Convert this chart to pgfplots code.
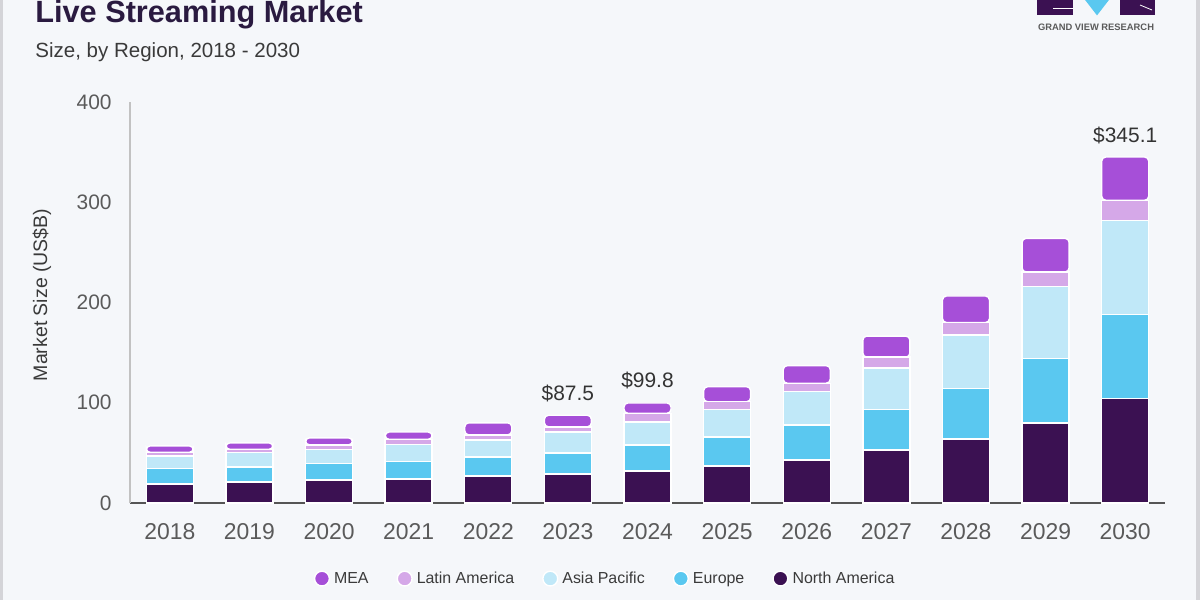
\documentclass[border=0pt]{standalone}
\usepackage{pgfplots}
\pgfplotsset{compat=1.18}
\usepackage{pgfplotstable}
\usepackage{fontspec}
\setmainfont{Liberation Sans}

\definecolor{bgc}{HTML}{F5F7FA}
\definecolor{titlec}{HTML}{2A1A40}
\definecolor{subc}{HTML}{3A3A3A}
\definecolor{tickc}{HTML}{5A5A5A}
\definecolor{valc}{HTML}{333333}
\definecolor{axdark}{HTML}{555555}
\definecolor{axlight}{HTML}{C2C2C2}
\definecolor{edgec}{HTML}{D4D4D8}
\definecolor{cNA}{HTML}{3B1152}
\definecolor{cEU}{HTML}{5AC8F0}
\definecolor{cAP}{HTML}{C0E8F8}
\definecolor{cLA}{HTML}{D5A8E8}
\definecolor{cMEA}{HTML}{A64FD8}

% Market size by region, US$ billion (2018 = 0, ..., 2030 = 12)
\pgfplotstableread{
idx NA  EU   AP   LA   MEA
0   19  15.6 12.4 3.5  6.5
1   21  15   14.5 3    6.5
2   23  16.6 14   4.4  7
3   24  17.2 17.3 5    7.3
4   27  19   17   5    12
5   29  21   21   5    11.5
6   32  26   23   8.5  10.3
7   37  29   27.5 7.5  15
8   43  35   33   8.5  17.5
9   53  40   41.5 11   21
10  64  50.5 53   12.5 26.5
11  80  64   72   14.5 33.5
12  104 84   93.5 20.5 43.1
}\market

\pgfplotsset{
  legcirc/.style={legend image code/.code={\fill[##1] (3.5bp,-0.3bp) circle (3.7bp);}},
  seg/.style={fill=#1, draw=white, line width=0.7bp, legcirc},
}

\begin{document}
\begin{tikzpicture}[x=1bp,y=1bp]
\fill[bgc] (0,0) rectangle (600,300);
\fill[edgec] (0,0) rectangle (1.3,300);
\fill[edgec] (598,0) rectangle (600,300);

% heading
\node[anchor=base west, inner sep=0pt, font=\fontsize{15.4}{18}\selectfont\bfseries, text=titlec]
  at (17.5,288.6) {Live Streaming Market};
\node[anchor=base west, inner sep=0pt, font=\fontsize{10.3}{12}\selectfont, text=subc]
  at (17.5,271.5) {Size, by Region, 2018 - 2030};

% logo
\fill[cNA] (518.5,292.5) rectangle (536.5,302);
\fill[cNA] (560,292.5) rectangle (577.5,302);
\fill[cEU] (541,302) -- (556,302) -- (548.5,292.3) -- cycle;
\draw[white, line width=0.4bp] (526.5,296) -- (536.5,296);
\draw[white, line width=0.4bp] (570,297.5) -- (576,295);
\node[anchor=base, inner sep=0pt, font=\fontsize{4.7}{5}\selectfont\bfseries, text=tickc]
  at (548,285) {GRAND VIEW RESEARCH};

\begin{axis}[
  at={(65bp,48.5bp)}, anchor=south west,
  scale only axis, width=517.5bp, height=200.5bp,
  ybar stacked, bar width=23.5bp,
  xmin=-0.5, xmax=12.5, ymin=0, ymax=400,
  xtick={0,1,2,3,4,5,6,7,8,9,10,11,12},
  xticklabels={2018,2019,2020,2021,2022,2023,2024,2025,2026,2027,2028,2029,2030},
  ytick={0,100,200,300,400},
  axis x line*=bottom, axis y line*=left,
  x axis line style={draw=axdark, line width=0.7bp},
  y axis line style={draw=axlight, line width=0.6bp},
  major tick length=0pt, tick style={draw=none},
  /pgf/number format/assume math mode=true,
  xticklabel style={font=\fontsize{11.5}{13}\selectfont, text=tickc, inner sep=0pt, yshift=-10bp},
  yticklabel style={font=\fontsize{10.5}{12}\selectfont, text=tickc, inner sep=0pt, xshift=-9bp},
  ylabel={Market Size (US\$B)},
  ylabel style={at={(axis description cs:-0.085,0.519)}, anchor=center,
    font=\fontsize{9.8}{11}\selectfont, text=subc},
  legend style={at={(axis description cs:0.46,-0.187)}, anchor=center,
    draw=none, fill=none, legend columns=-1,
    font=\fontsize{8}{9.6}\selectfont, text=subc,
    nodes={text height=0.72em, text depth=0.21em},
    /tikz/every even column/.append style={column sep=12bp}},
  legend cell align=left,
  reverse legend,
  clip=false,
]
\addplot[seg=cNA]  table[x=idx, y=NA]  {\market};
\addlegendentry{North America}
\addplot[seg=cEU]  table[x=idx, y=EU]  {\market};
\addlegendentry{Europe}
\addplot[seg=cAP]  table[x=idx, y=AP]  {\market};
\addlegendentry{Asia Pacific}
\addplot[seg=cLA]  table[x=idx, y=LA]  {\market};
\addlegendentry{Latin America}
\addplot[seg=cMEA, rounded corners=2bp] table[x=idx, y=MEA] {\market};
\addlegendentry{MEA}

% totals above selected bars
\node[anchor=base, font=\fontsize{10.5}{12}\selectfont, text=valc, yshift=7.5bp] at (axis cs:5,87.5) {\$87.5};
\node[anchor=base, font=\fontsize{10.5}{12}\selectfont, text=valc, yshift=7.5bp] at (axis cs:6,99.8) {\$99.8};
\node[anchor=base, font=\fontsize{10.5}{12}\selectfont, text=valc, yshift=7.5bp] at (axis cs:12,345.1) {\$345.1};
\end{axis}

\pgfresetboundingbox
\useasboundingbox (0,0) rectangle (600,300);
\end{tikzpicture}
\end{document}
